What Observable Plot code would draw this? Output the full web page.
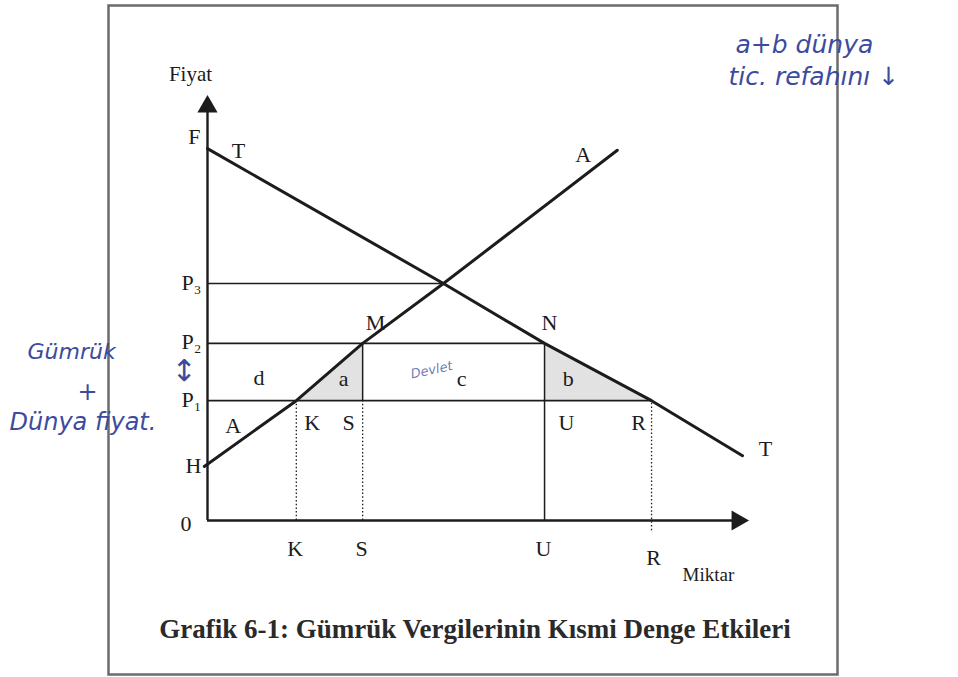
<!DOCTYPE html>
<html>
<head>
<meta charset="utf-8">
<script src="https://cdn.jsdelivr.net/npm/d3@7"></script>
<script src="https://cdn.jsdelivr.net/npm/@observablehq/plot@0.6"></script>
<style>
  html, body { margin: 0; padding: 0; background: #fff; }
  svg { display: block; }
</style>
</head>
<body>
<div id="chart"></div>
<script>
// Price levels on the vertical axis
const priceNames = ["H", "P₁", "P₂", "P₃", "F"];
const priceValues = [1.01, 2.24, 3.31, 4.43, 6.95];

// Quantity levels on the horizontal axis
const qtyNames = ["K", "S", "U", "R"];
const qtyValues = [1.66, 2.90, 6.30, 8.30];

// Supply curve A: H, K, M, equilibrium, upper end
const supplyQ = [-0.06, 1.66, 2.90, 4.41, 7.66];
const supplyP = [1.01, 2.24, 3.31, 4.43, 6.92];

// Demand curve T: F, equilibrium, N, R, lower end
const demandQ = [0, 4.41, 6.30, 8.30, 10.0];
const demandP = [6.95, 4.43, 3.31, 2.24, 1.21];

// Length of the two axes (arrow tips)
const axisEnd = {q: 10.11, p: 7.94};

const title = "Grafik 6-1: Gümrük Vergilerinin Kısmi Denge Etkileri";
const notesTopRight = ["a+b dünya", "tic. refahını ↓"];
const notesLeft = ["Gümrük", "+", "Dünya fiyat."];

const supply = supplyQ.map((q, i) => ({q, p: supplyP[i]}));
const demand = demandQ.map((q, i) => ({q, p: demandP[i]}));
const [H, P1, P2, P3, F] = priceValues;
const [K, S, U, R] = qtyValues;
const E = supply[3];

const serif = "'Liberation Serif', 'Times New Roman', serif";
const ink = "#1c1c1c";
const pen = "#3d4b9e";
const hand = "'DejaVu Sans', sans-serif";

// Deadweight triangles a (production) and b (consumption)
const triA = [{q: K, lo: P1, hi: P1}, {q: S, lo: P1, hi: P2}];
const triB = [{q: U, lo: P1, hi: P2}, {q: R, lo: P1, hi: P1}];

const priceLines = [{p: P3, to: E.q}, {p: P2, to: U}, {p: P1, to: R}];
const dottedDrops = [{q: K, top: P1, bot: 0}, {q: S, top: P1, bot: 0}, {q: R, top: P1, bot: -0.19}];
const solidDrops = [{q: S, top: P2, bot: P1}, {q: U, top: P2, bot: 0}];

const priceLabels = priceNames.map((name, i) => ({name, p: priceValues[i]}));
const qtyLabels = qtyNames.map((name, i) => ({name, q: qtyValues[i]}));

const txt = {fontFamily: serif, fontSize: 22, fill: ink};
const note = {frameAnchor: "top-right", fontFamily: hand, fontStyle: "italic", fontWeight: 300, fontSize: 25, fill: pen, textAnchor: "start"};
const noteL = {frameAnchor: "left", fontFamily: hand, fontStyle: "italic", fontWeight: 300, fontSize: 21, fill: pen, textAnchor: "start"};

const chart = Plot.plot({
  width: 958,
  height: 677,
  marginLeft: 207,
  marginRight: 216,
  marginTop: 92,
  marginBottom: 157,
  x: {domain: [0, 10], axis: null},
  y: {domain: [0, 8], axis: null},
  style: {fontFamily: serif, background: "white", overflow: "visible"},
  marks: [
    // outer box of the figure
    Plot.frame({stroke: "#6b6b6b", strokeWidth: 2.5, insetLeft: -99, insetTop: -87, insetRight: -95, insetBottom: -154}),

    // shaded triangles
    Plot.areaY(triA, {x: "q", y1: "lo", y2: "hi", fill: "#e2e2e2"}),
    Plot.areaY(triB, {x: "q", y1: "lo", y2: "hi", fill: "#e2e2e2"}),

    // price levels and drop lines
    Plot.ruleY(priceLines, {y: "p", x1: () => 0, x2: "to", stroke: ink, strokeWidth: 1.6}),
    Plot.ruleX(dottedDrops, {x: "q", y1: "bot", y2: "top", stroke: ink, strokeWidth: 1.3, strokeDasharray: "1.5,2.2"}),
    Plot.ruleX(solidDrops, {x: "q", y1: "bot", y2: "top", stroke: ink, strokeWidth: 1.5}),

    // axes with arrowheads
    Plot.ruleX([0], {y1: () => 0, y2: () => axisEnd.p - 0.2, stroke: ink, strokeWidth: 2.4}),
    Plot.ruleY([0], {x1: () => 0, x2: () => axisEnd.q - 0.2, stroke: ink, strokeWidth: 2.4}),
    Plot.dot([axisEnd], {x: () => 0, y: "p", symbol: "triangle", r: 7.5, fill: ink, stroke: "none", dy: 11}),
    Plot.dot([axisEnd], {x: "q", y: () => 0, symbol: "triangle", r: 7.5, fill: ink, stroke: "none", rotate: 90, dx: -11}),

    // supply (A) and demand (T) curves
    Plot.line(demand, {x: "q", y: "p", stroke: ink, strokeWidth: 3}),
    Plot.line(supply, {x: "q", y: "p", stroke: ink, strokeWidth: 3}),

    // axis titles
    Plot.text([axisEnd], {x: () => 0, y: "p", text: () => "Fiyat", ...txt, fontSize: 21, dx: -17, dy: -21}),
    Plot.text([axisEnd], {x: "q", y: () => 0, text: () => "Miktar", ...txt, fontSize: 19, dx: -40, dy: 54}),

    // price labels on the vertical axis
    Plot.text(priceLabels.filter(d => d.name !== "F"), {x: () => 0, y: "p", text: "name", ...txt, textAnchor: "end", dx: -6, dy: -1}),
    Plot.text(priceLabels.filter(d => d.name === "F"), {x: () => 0, y: "p", text: "name", ...txt, textAnchor: "end", dx: -7, dy: -12}),
    Plot.text(["0"], {x: () => 0, y: () => 0, text: d => d, ...txt, textAnchor: "end", dx: -16, dy: 3}),

    // quantity labels under the horizontal axis
    Plot.text(qtyLabels.filter(d => d.name !== "R"), {x: "q", y: () => 0, text: "name", ...txt, dx: -1, dy: 28}),
    Plot.text(qtyLabels.filter(d => d.name === "R"), {x: "q", y: () => 0, text: "name", ...txt, dx: 2, dy: 37}),

    // point labels inside the chart
    Plot.text([{q: K, p: P1, t: "K"}], {x: "q", y: "p", text: "t", ...txt, dx: 16, dy: 22}),
    Plot.text([{q: S, p: P1, t: "S"}], {x: "q", y: "p", text: "t", ...txt, dx: -14, dy: 22}),
    Plot.text([{q: U, p: P1, t: "U"}], {x: "q", y: "p", text: "t", ...txt, dx: 22, dy: 22}),
    Plot.text([{q: R, p: P1, t: "R"}], {x: "q", y: "p", text: "t", ...txt, dx: -13, dy: 22}),
    Plot.text([{q: S, p: P2, t: "M"}], {x: "q", y: "p", text: "t", ...txt, dx: 13, dy: -20}),
    Plot.text([{q: U, p: P2, t: "N"}], {x: "q", y: "p", text: "t", ...txt, dx: 5, dy: -20}),

    // curve names
    Plot.text([supply[4]], {x: "q", y: "p", text: () => "A", ...txt, dx: -34, dy: 5}),
    Plot.text([supply[0]], {x: "q", y: "p", text: () => "A", ...txt, dx: 29, dy: -41}),
    Plot.text([demand[0]], {x: "q", y: "p", text: () => "T", ...txt, dx: 31, dy: 2}),
    Plot.text([demand[4]], {x: "q", y: "p", text: () => "T", ...txt, dx: 23, dy: -7}),

    // area labels
    Plot.text([{q: K / 2, p: (P1 + P2) / 2}], {x: "q", y: "p", text: () => "d", ...txt, dx: 7, dy: 6}),
    Plot.text([{q: (K + 2 * S) / 3, p: (2 * P1 + P2) / 3}], {x: "q", y: "p", text: () => "a", ...txt, dx: 3, dy: -3}),
    Plot.text([{q: (S + U) / 2, p: (P1 + P2) / 2}], {x: "q", y: "p", text: () => "c", ...txt, dx: 8, dy: 7}),
    Plot.text([{q: (2 * U + R) / 3, p: (2 * P1 + P2) / 3}], {x: "q", y: "p", text: () => "b", ...txt, dx: -12, dy: -3}),

    // handwritten notes
    Plot.text([{q: (S + U) / 2, p: (P1 + P2) / 2}], {x: "q", y: "p", text: () => "Devlet", fontFamily: hand, fontStyle: "italic", fontSize: 13, fill: pen, fillOpacity: 0.75, rotate: -12, dx: -22, dy: -2}),
    Plot.text([notesTopRight[0]], {...note, text: d => d, dx: -7, dy: -57}),
    Plot.text([notesTopRight[1]], {...note, text: d => d, dx: -14, dy: -25}),
    Plot.text([notesLeft[0]], {...noteL, text: d => d, fontSize: 22, dx: -180, dy: 45}),
    Plot.text([notesLeft[1]], {...noteL, text: d => d, fontSize: 24, dx: -130, dy: 86}),
    Plot.text([notesLeft[2]], {...noteL, text: d => d, fontSize: 24, dx: -198, dy: 116}),
    Plot.text(["↕"], {frameAnchor: "left", text: d => d, fontFamily: hand, fontSize: 30, fill: pen, dx: -36, dy: 65}),

    // figure caption
    Plot.text([title], {frameAnchor: "bottom", text: d => d, fontFamily: serif, fontSize: 27, fontWeight: "bold", fill: "#2a2a2a", dy: 117})
  ]
});

document.getElementById("chart").appendChild(chart);
</script>
</body>
</html>
